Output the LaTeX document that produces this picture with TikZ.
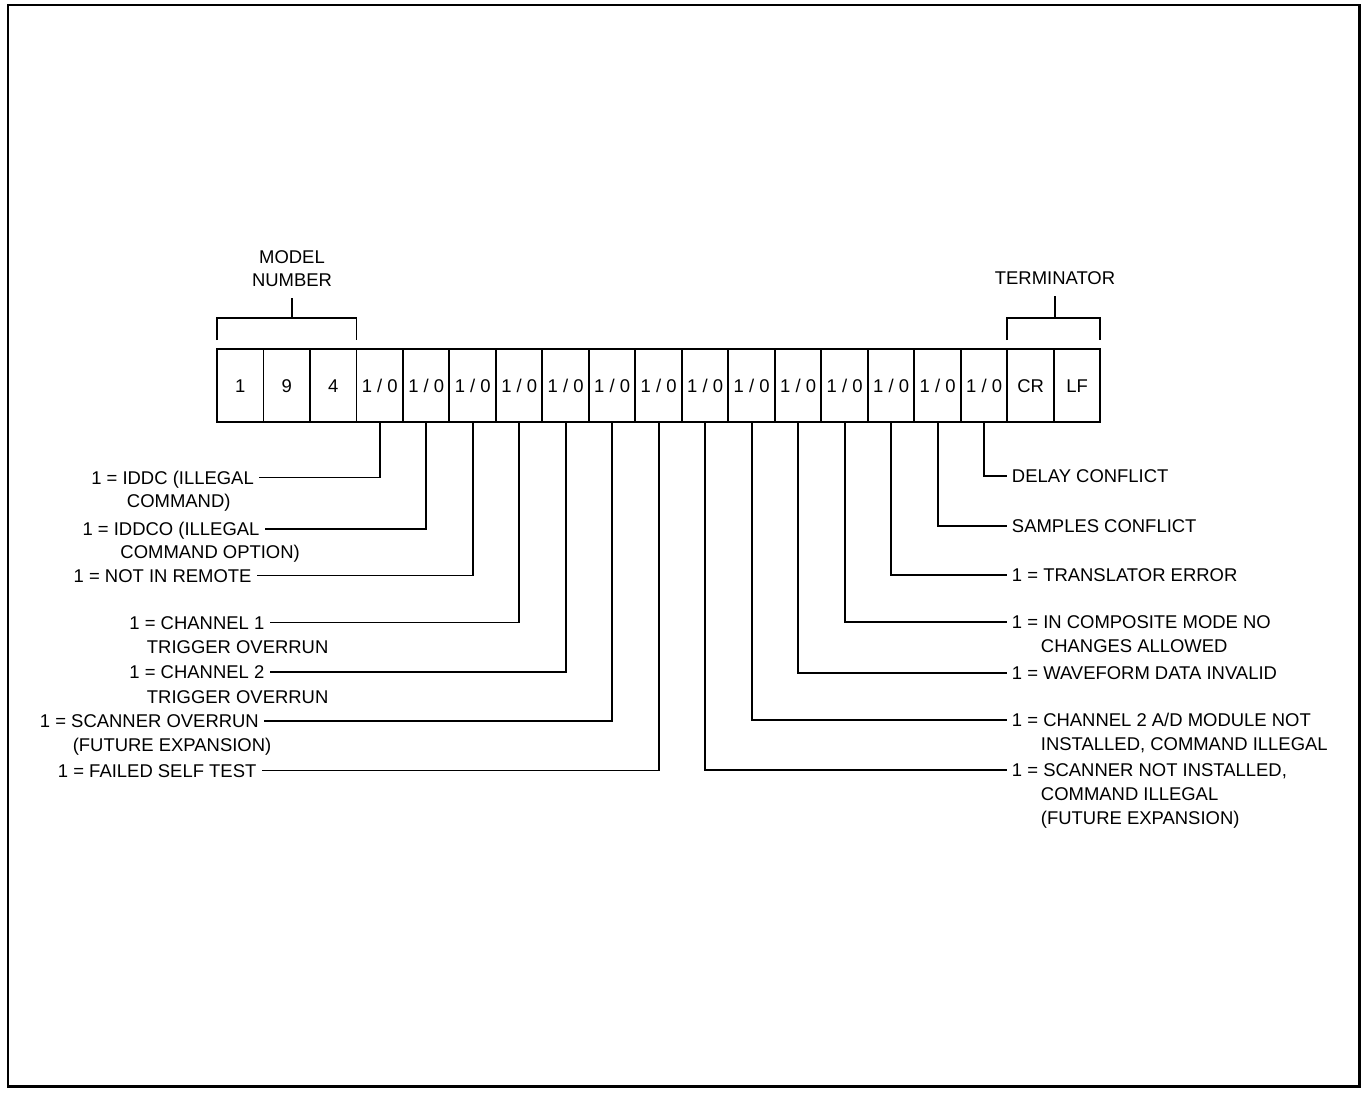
\documentclass[tikz,border=0pt]{standalone}
\usepackage{fontspec}
\setmainfont{Liberation Sans}
\usetikzlibrary{positioning}

\begin{document}
\begin{tikzpicture}[
    x=0.02cm, y=-0.02cm,
    cell/.style={rectangle,draw,line width=1.1pt,minimum width=0.93cm,minimum height=1.46cm,inner sep=0pt,outer sep=0pt,text height=7.5pt,text depth=0pt,font=\fontsize{10.5}{12}\selectfont},
    lab/.style={inner xsep=3pt,inner ysep=1pt,outer sep=0pt,text height=7.5pt,text depth=0pt,font=\fontsize{10.5}{13.6}\selectfont},
    head/.style={align=center,inner xsep=2pt,inner ysep=6pt,font=\fontsize{10.5}{13.6}\selectfont},
    lead/.style={line width=1.1pt}
]
\useasboundingbox (0,0) rectangle (1361,1093);

% Frame
\draw[line width=1.5pt] (8,5) rectangle (1359.5,1086.5);

% Model number cells
\node[cell] (m1) at (240.25,385.5) {1};
\node[cell, right=0pt of m1] (m2) {9};
\node[cell, right=0pt of m2] (m3) {4};

% Status bits
\node[cell, right=0pt of m3] (b1) {1 / 0};
\node[cell, right=0pt of b1] (b2) {1 / 0};
\node[cell, right=0pt of b2] (b3) {1 / 0};
\node[cell, right=0pt of b3] (b4) {1 / 0};
\node[cell, right=0pt of b4] (b5) {1 / 0};
\node[cell, right=0pt of b5] (b6) {1 / 0};
\node[cell, right=0pt of b6] (b7) {1 / 0};
\node[cell, right=0pt of b7] (b8) {1 / 0};
\node[cell, right=0pt of b8] (b9) {1 / 0};
\node[cell, right=0pt of b9] (b10) {1 / 0};
\node[cell, right=0pt of b10] (b11) {1 / 0};
\node[cell, right=0pt of b11] (b12) {1 / 0};
\node[cell, right=0pt of b12] (b13) {1 / 0};
\node[cell, right=0pt of b13] (b14) {1 / 0};

% Terminator cells
\node[cell, right=0pt of b14] (cr) {CR};
\node[cell, right=0pt of cr] (lf) {LF};

% Brackets
\coordinate (mtop) at ([yshift=0.62cm]m1.north west);
\draw[lead] ([yshift=0.18cm]m1.north west) -- (mtop) -- (mtop -| m3.north east) -- ([yshift=0.18cm]m3.north east);
\node[head, anchor=south] (model) at (292,298) {MODEL\\NUMBER};
\draw[lead] (model.south) -- (model.south |- mtop);

\coordinate (ttop) at ([yshift=0.62cm]cr.north west);
\draw[lead] ([yshift=0.18cm]cr.north west) -- (ttop) -- (ttop -| lf.north east) -- ([yshift=0.18cm]lf.north east);
\node[head, anchor=south] (term) at (1055,296) {TERMINATOR};
\draw[lead] (term.south) -- (term.south |- ttop);

% Left labels
\node[lab, anchor=west] (iddc) at (86,477.5) {1 = IDDC (ILLEGAL};
\node[lab, anchor=west] (iddcb) at (121.7,501) {COMMAND)};
\node[lab, anchor=west] (iddco) at (77.3,529) {1 = IDDCO (ILLEGAL};
\node[lab, anchor=west] (iddcob) at (115.2,552) {COMMAND OPTION)};
\node[lab, anchor=west] (notrem) at (68.4,575.5) {1 = NOT IN REMOTE};
\node[lab, anchor=west] (chone) at (124.2,622.5) {1 = CHANNEL 1};
\node[lab, anchor=west] (choneb) at (141.7,647) {TRIGGER OVERRUN};
\node[lab, anchor=west] (chtwo) at (124.2,672) {1 = CHANNEL 2};
\node[lab, anchor=west] (chtwob) at (141.7,696.5) {TRIGGER OVERRUN};
\node[lab, anchor=west] (scover) at (34.7,721) {1 = SCANNER OVERRUN};
\node[lab, anchor=west] (scoverb) at (67.5,745) {(FUTURE EXPANSION)};
\node[lab, anchor=west] (selftest) at (52.7,770.5) {1 = FAILED SELF TEST};

% Right labels
\node[lab, anchor=west] (delay) at (1006.7,476) {DELAY CONFLICT};
\node[lab, anchor=west] (samples) at (1006.7,526) {SAMPLES CONFLICT};
\node[lab, anchor=west] (transl) at (1006.7,575) {1 = TRANSLATOR ERROR};
\node[lab, anchor=west] (compos) at (1006.7,622) {1 = IN COMPOSITE MODE NO};
\node[lab, anchor=west] (composb) at (1035.7,646) {CHANGES ALLOWED};
\node[lab, anchor=west] (wave) at (1006.7,673) {1 = WAVEFORM DATA INVALID};
\node[lab, anchor=west] (chad) at (1006.7,720) {1 = CHANNEL 2 A/D MODULE NOT};
\node[lab, anchor=west] (chadb) at (1035.7,744) {INSTALLED, COMMAND ILLEGAL};
\node[lab, anchor=west] (scnot) at (1006.7,770) {1 = SCANNER NOT INSTALLED,};
\node[lab, anchor=west] (scnotb) at (1035.7,794) {COMMAND ILLEGAL};
\node[lab, anchor=west] (scnotc) at (1035.7,818) {(FUTURE EXPANSION)};

% Leads
\draw[lead] (b1.south) |- (iddc.east);
\draw[lead] (b2.south) |- (iddco.east);
\draw[lead] (b3.south) |- (notrem.east);
\draw[lead] (b4.south) |- (chone.east);
\draw[lead] (b5.south) |- (chtwo.east);
\draw[lead] (b6.south) |- (scover.east);
\draw[lead] (b7.south) |- (selftest.east);
\draw[lead] (b8.south) |- (scnot.west);
\draw[lead] (b9.south) |- (chad.west);
\draw[lead] (b10.south) |- (wave.west);
\draw[lead] (b11.south) |- (compos.west);
\draw[lead] (b12.south) |- (transl.west);
\draw[lead] (b13.south) |- (samples.west);
\draw[lead] (b14.south) |- (delay.west);

\end{tikzpicture}
\end{document}
